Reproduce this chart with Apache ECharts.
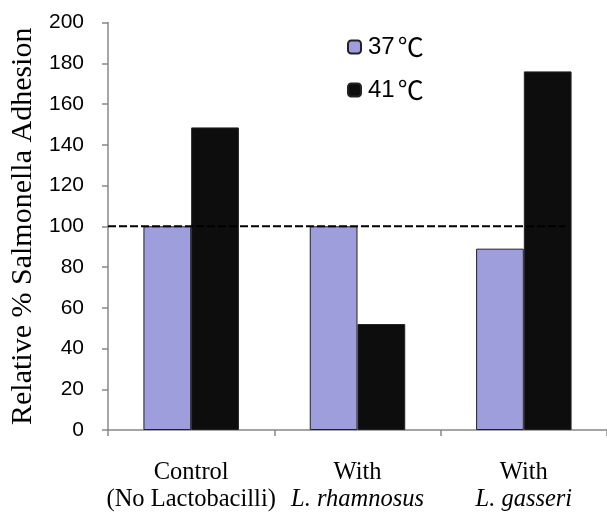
<!DOCTYPE html>
<html><head><meta charset="utf-8">
<script src="https://cdn.jsdelivr.net/npm/echarts@6/dist/echarts.min.js"></script>
<style>html,body{margin:0;padding:0;background:#fff}#c{width:607px;height:512px}</style>
</head><body><div id="c"></div>
<script>
var categories = ['Control', 'With', 'With'];
var categorySub = ['(No Lactobacilli)', 'L. rhamnosus', 'L. gasseri'];
var categorySubItalic = [false, true, true];
var seriesTemps = ['37', '41'];
var tempUnit = '℃';
var values37 = [100, 100, 89];
var values41 = [148.5, 52, 176];
var refLevel = 100;
var refLineX = [0, 2.75];

var seriesNames = seriesTemps.map(function(t){ return t + tempUnit; });

var chart = echarts.init(document.getElementById('c'));
chart.setOption({
  animation: false,
  backgroundColor: '#fff',
  grid: {left: 107, right: 0, top: 22.5, bottom: 80, containLabel: false},
  legend: {
    orient: 'vertical', left: 342, top: 29, itemWidth: 13, itemHeight: 13, itemGap: 17,
    formatter: function(name){
      return '{a|' + name.replace(tempUnit, '') + '}{b|' + tempUnit + '}';
    },
    textStyle: {
      fontFamily: 'Liberation Sans', fontSize: 24, color: '#000', padding: [0,0,0,2],
      rich: {
        a: {fontFamily: 'Liberation Sans', fontSize: 24, lineHeight: 28, verticalAlign: 'middle', color: '#000'},
        b: {fontFamily: 'Noto Sans CJK JP', fontSize: 26, lineHeight: 28, verticalAlign: 'middle', color: '#000', padding: [0,0,0,3]}
      }
    },
    data: seriesNames
  },
  xAxis: [{
    type: 'category', data: categories.map(function(c, i){ return i; }),
    axisLine: {lineStyle: {color: '#888', width: 1.5}},
    axisTick: {show: true, length: 6, lineStyle: {color: '#888', width: 1.5}},
    axisLabel: {
      margin: 29, interval: 0,
      formatter: function(v){
        var i = +v;
        return '{n|' + categories[i] + '}\n{' + (categorySubItalic[i] ? 'i' : 'n') + '|' + categorySub[i] + '}';
      },
      rich: {
        n: {fontFamily: 'Liberation Serif', fontSize: 24.5, color: '#000', lineHeight: 27},
        i: {fontFamily: 'Liberation Serif', fontSize: 24.5, fontStyle: 'italic', color: '#000', lineHeight: 27}
      }
    }
  }, {
    type: 'value', min: 0, max: 3, show: false
  }],
  yAxis: {
    type: 'value', min: 0, max: 200, interval: 20,
    name: 'Relative % Salmonella Adhesion', nameLocation: 'middle', nameGap: 70,
    nameTextStyle: {fontFamily: 'Liberation Serif', fontSize: 30, color: '#000'},
    axisLine: {show: true, lineStyle: {color: '#888', width: 1.5}},
    axisTick: {show: true, length: 6, lineStyle: {color: '#888', width: 1.5}},
    splitLine: {show: false},
    axisLabel: {fontFamily: 'Liberation Sans', fontSize: 21, color: '#000', margin: 24}
  },
  series: [{
    name: seriesNames[0], type: 'bar', data: values37, barWidth: '28.7%', barGap: '0%',
    itemStyle: {color: '#9e9edc', borderColor: '#222', borderWidth: 1}
  }, {
    name: seriesNames[1], type: 'bar', data: values41, barWidth: '28.7%', barGap: '0%',
    itemStyle: {color: '#0d0d0d', borderColor: '#222', borderWidth: 1}
  }, {
    type: 'line', xAxisIndex: 1, data: refLineX.map(function(x){ return [x, refLevel]; }),
    symbol: 'none', z: 5, silent: true,
    lineStyle: {color: '#000', width: 2, type: [8, 3]}
  }]
});
</script></body></html>
